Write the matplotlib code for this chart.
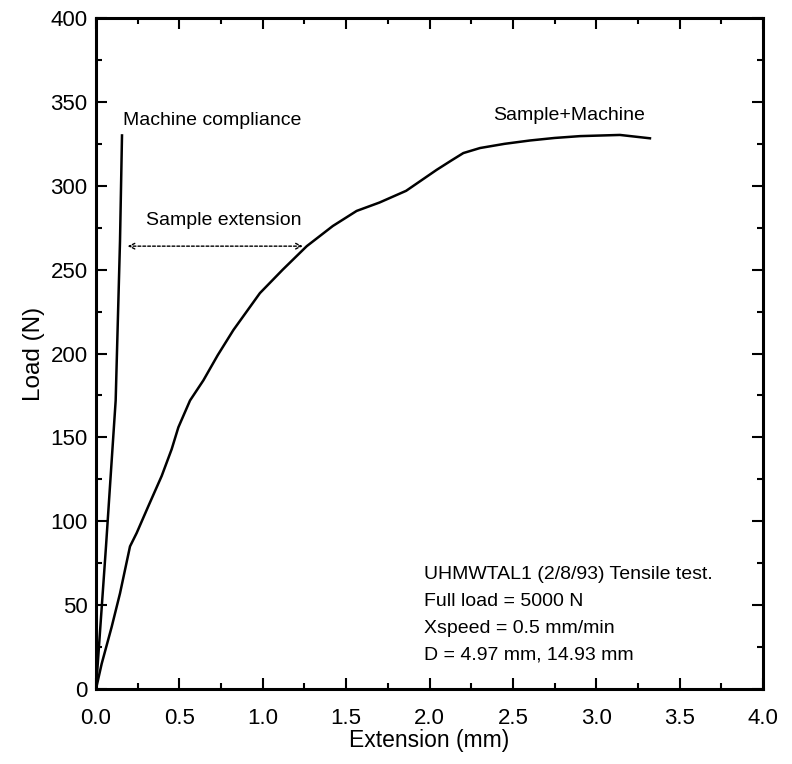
import matplotlib.pyplot as plt
from matplotlib.ticker import MultipleLocator

plt.rcParams['font.family'] = ['Liberation Sans', 'DejaVu Sans']

# Machine compliance curve
x_mach = [0.0, 0.06, 0.118, 0.144, 0.156]
y_mach = [0, 85, 172, 267, 330]

# Sample + machine curve
x_samp = [0.0, 0.034, 0.094, 0.144, 0.204, 0.244, 0.314, 0.394, 0.454, 0.494,
          0.564, 0.644, 0.73, 0.824, 0.983, 1.12, 1.264, 1.42, 1.563, 1.70,
          1.86, 2.043, 2.13, 2.203, 2.303, 2.45, 2.603, 2.75, 2.903, 3.142, 3.322]
y_samp = [0, 15, 37, 57, 85, 93, 109, 127, 143, 156,
          172, 184, 199, 214, 236, 250, 264, 276, 285, 290,
          297, 309.5, 315, 319.5, 322.5, 325, 327, 328.5, 329.6, 330.3, 328.3]

notes = ["UHMWTAL1 (2/8/93) Tensile test.",
         "Full load = 5000 N",
         "Xspeed = 0.5 mm/min",
         "D = 4.97 mm, 14.93 mm"]
notes_y = [68, 52, 36, 20]

fig = plt.figure(figsize=(7.92, 7.64), dpi=100)
ax = fig.add_axes([0.1212, 0.0982, 0.8422, 0.8782])

ax.plot(x_mach, y_mach, 'k-', lw=1.8)
ax.plot(x_samp, y_samp, 'k-', lw=1.8)

ax.set_xlim(0, 4.0)
ax.set_ylim(0, 400)
ax.xaxis.set_major_locator(MultipleLocator(0.5))
ax.xaxis.set_minor_locator(MultipleLocator(0.25))
ax.yaxis.set_major_locator(MultipleLocator(50))
ax.yaxis.set_minor_locator(MultipleLocator(25))
ax.xaxis.set_major_formatter(plt.FormatStrFormatter('%.1f'))
ax.tick_params(which='both', direction='in', top=True, right=True, labelsize=16, width=1.5)
ax.tick_params(which='major', length=8)
ax.tick_params(which='minor', length=4)
ax.tick_params(axis='x', which='major', pad=14)
ax.tick_params(axis='y', which='major', pad=6)
for s in ax.spines.values():
    s.set_linewidth(2.2)

ax.set_xlabel("Extension (mm)", fontsize=16.5, labelpad=0)
ax.set_ylabel("Load (N)", fontsize=17.5, labelpad=4)

ax.text(0.16, 339, "Machine compliance", fontsize=14, va='center')
ax.text(0.30, 279, "Sample extension", fontsize=14, va='center')
ax.text(2.38, 342, "Sample+Machine", fontsize=14, va='center')
ax.annotate("", xy=(0.19, 264), xytext=(1.24, 264),
            arrowprops=dict(arrowstyle='<->', linestyle=(0, (2, 1.5)), lw=1.0,
                            color='k', shrinkA=0, shrinkB=0))

for t, yy in zip(notes, notes_y):
    ax.text(1.97, yy, t, fontsize=14, va='center')

fig.savefig("out.png", dpi=100)
